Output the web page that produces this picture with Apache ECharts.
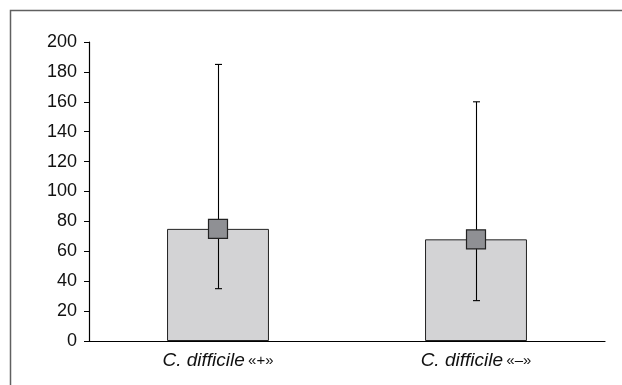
<!DOCTYPE html>
<html>
<head>
<meta charset="utf-8">
<script src="https://cdn.jsdelivr.net/npm/echarts@6/dist/echarts.min.js"></script>
<style>
html,body{margin:0;padding:0;background:#fff;}
#c{width:622px;height:385px;}
</style>
</head>
<body>
<div id="c"></div>
<script>
var categories = ['C. difficile «+»', 'C. difficile «–»'];
var means = [75, 68];
var upper = [185, 160];
var lower = [35, 27];
var yTicks = [0, 20, 40, 60, 80, 100, 120, 140, 160, 180, 200];

var chart = echarts.init(document.getElementById('c'), null, {renderer: 'canvas'});
var font = 'Liberation Sans, Arial, sans-serif';

var errData = categories.map(function (c, i) { return [i, lower[i], upper[i]]; });

chart.setOption({
  animation: false,
  backgroundColor: '#ffffff',
  graphic: [{
    type: 'rect',
    shape: {x: 10.5, y: 10.5, width: 700, height: 500},
    style: {fill: 'none', stroke: '#606060', lineWidth: 1.5},
    silent: true
  }],
  grid: {left: 89, right: 17, top: 42, bottom: 44, containLabel: false},
  xAxis: {
    type: 'category',
    data: categories,
    axisLine: {lineStyle: {color: '#000', width: 1.2}},
    axisTick: {show: false},
    axisLabel: {
      margin: 10,
      formatter: function (v) {
        var k = v.indexOf(' «');
        return '{i|' + v.slice(0, k) + '} {n|' + v.slice(k + 1) + '}';
      },
      rich: {
        i: {fontFamily: font, fontStyle: 'italic', fontSize: 19, color: '#111'},
        n: {fontFamily: font, fontSize: 15, color: '#111'}
      }
    }
  },
  yAxis: {
    type: 'value',
    min: yTicks[0],
    max: yTicks[yTicks.length - 1],
    interval: 20,
    splitLine: {show: false},
    axisLine: {show: true, lineStyle: {color: '#000', width: 1.2}},
    axisTick: {show: true, inside: false, length: 5, lineStyle: {color: '#000'}},
    axisLabel: {margin: 12, fontFamily: font, fontSize: 18, color: '#111'}
  },
  series: [
    {
      type: 'bar',
      data: means,
      barWidth: '39.5%',
      itemStyle: {color: '#d3d3d5', borderColor: '#222', borderWidth: 1},
      z: 1
    },
    {
      type: 'custom',
      data: errData,
      z: 3,
      renderItem: function (params, api) {
        var x = api.value(0);
        var lo = api.coord([x, api.value(1)]);
        var hi = api.coord([x, api.value(2)]);
        var cx = Math.round(lo[0]) + 0.5;
        var hw = 3.5;
        var st = {stroke: '#000', lineWidth: 1.1};
        return {
          type: 'group',
          children: [
            {type: 'line', shape: {x1: cx, y1: hi[1], x2: cx, y2: lo[1]}, style: st},
            {type: 'line', shape: {x1: cx - hw, y1: hi[1], x2: cx + hw, y2: hi[1]}, style: st},
            {type: 'line', shape: {x1: cx - hw, y1: lo[1], x2: cx + hw, y2: lo[1]}, style: st}
          ]
        };
      }
    },
    {
      type: 'scatter',
      data: means,
      symbol: 'rect',
      symbolSize: 19,
      itemStyle: {color: '#8f9094', borderColor: '#222', borderWidth: 1.2, opacity: 1},
      z: 5
    }
  ]
});
</script>
</body>
</html>
